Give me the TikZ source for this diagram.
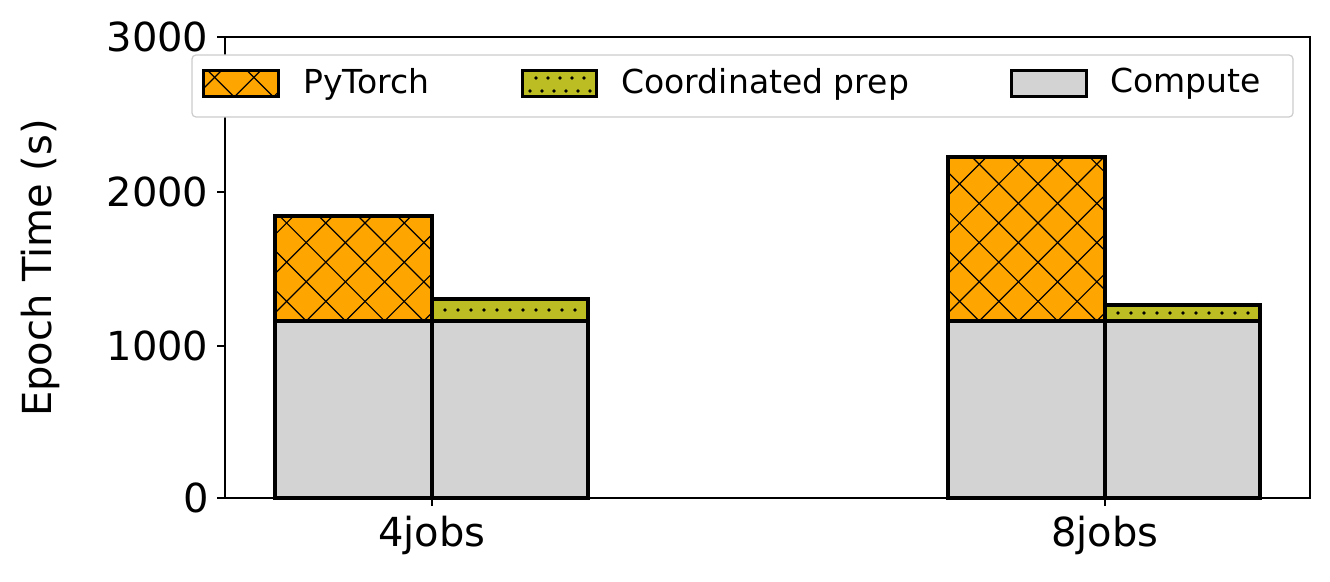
\documentclass[tikz,border=0pt]{standalone}
\usepackage{fontspec}
\setmainfont{DejaVu Sans}
\definecolor{orng}{HTML}{FFA500}
\definecolor{olive}{HTML}{BCBD22}
\definecolor{lgray}{HTML}{D3D3D3}
\tikzset{barbox/.style={draw=black,line width=3.5pt},
 ticklab/.style={font=\fontsize{40}{40}\selectfont},
 leglab/.style={font=\fontsize{33}{33}\selectfont,anchor=west}}
\newcommand{\xhatch}[4]{% x1 y1 x2 y2
 \begin{scope}\clip (#1,#2) rectangle (#3,#4);
 \foreach \k in {-400,-360.8,...,600}{\draw[line width=1.2pt] (#1+\k,#2)--++(400,400); \draw[line width=1.2pt] (#1+\k,#2)--++(-400,400);}
 \end{scope}}
\newcommand{\dotrow}[4]{% x1 x1+step x2 y
 \foreach \xx in {#1,#2,...,#3}{\fill (\xx,#4) circle (1.8pt);}}
\begin{document}
\begin{tikzpicture}[x=1pt,y=1pt]
\useasboundingbox (0,0) rectangle (1330,581);
\def\yb{83}
\fill[lgray] (275,\yb) rectangle (432,260);
\fill[orng] (275,260) rectangle (432,365); \xhatch{275}{260}{432}{365}
\draw[barbox] (275,\yb) rectangle (432,260); \draw[barbox] (275,260) rectangle (432,365);
\fill[lgray] (432,\yb) rectangle (588,260);
\fill[olive] (432,260) rectangle (588,282); \dotrow{445}{458}{585}{271}
\draw[barbox] (432,\yb) rectangle (588,260); \draw[barbox] (432,260) rectangle (588,282);
\fill[lgray] (948,\yb) rectangle (1105,260);
\fill[orng] (948,260) rectangle (1105,424); \xhatch{948}{260}{1105}{424}
\draw[barbox] (948,\yb) rectangle (1105,260); \draw[barbox] (948,260) rectangle (1105,424);
\fill[lgray] (1105,\yb) rectangle (1260,260);
\fill[olive] (1105,260) rectangle (1260,276); \dotrow{1118}{1131}{1258}{268}
\draw[barbox] (1105,\yb) rectangle (1260,260); \draw[barbox] (1105,260) rectangle (1260,276);
\draw[line width=1.3pt] (225,83) rectangle (1310,544);
\foreach \v/\yy in {0/83,1000/235,2000/389,3000/544}{
 \draw[line width=1.3pt] (225,\yy)--(217,\yy);
 \node[ticklab,anchor=east] (t\v) at (212,\yy) {\v};}
\draw[line width=1.3pt] (432,83)--(432,75); \draw[line width=1.3pt] (1105,83)--(1105,75);
\node[ticklab,anchor=north] (x4) at (432,68) {4jobs};
\node[ticklab,anchor=north] (x8) at (1105,68) {8jobs};
\node[ticklab,rotate=90] (yl) at (40,313) {Epoch Time (s)};
\draw[draw=black!20,fill=white,line width=1.2pt,rounded corners=4pt] (192,464) rectangle (1293,526);
\fill[orng] (203,484) rectangle (278,510); \xhatch{203}{484}{278}{510}
\draw[line width=3pt] (203,484) rectangle (278,510);
\node[leglab] (l1) at (300,497) {PyTorch};
\fill[olive] (522,484) rectangle (596,510); \dotrow{530}{542}{592}{490} \dotrow{536}{548}{592}{503}
\draw[line width=3pt] (522,484) rectangle (596,510);
\node[leglab] (l2) at (618,497) {Coordinated prep};
\fill[lgray] (1011,484) rectangle (1086,510);
\draw[line width=3pt] (1011,484) rectangle (1086,510);
\node[leglab] (l3) at (1107,497) {Compute};
\end{tikzpicture}
\end{document}
